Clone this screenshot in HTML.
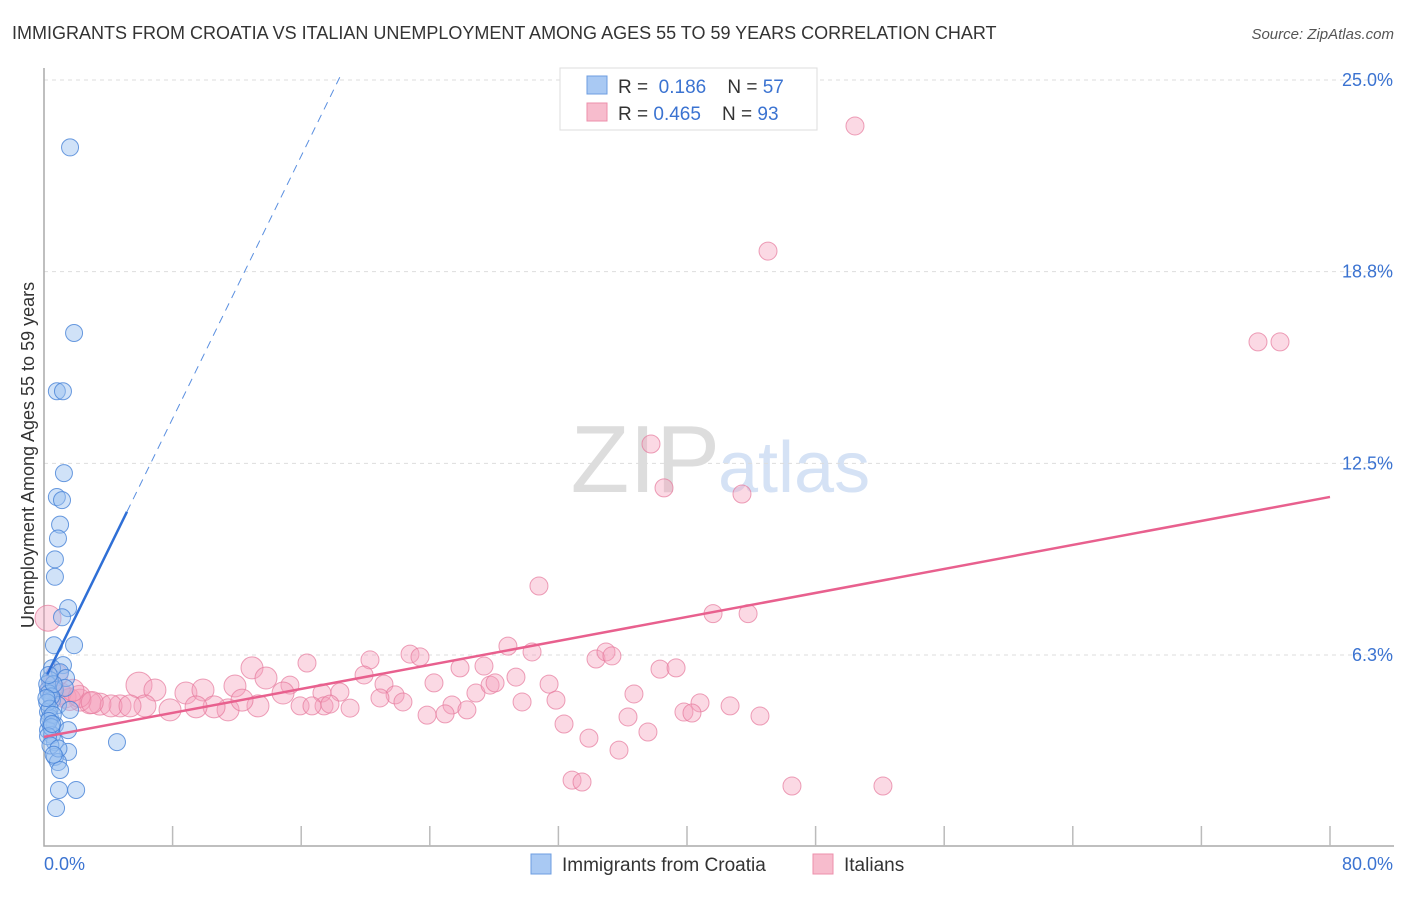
<!DOCTYPE html>
<html><head><meta charset="utf-8"><style>
body{margin:0;background:#fff;font-family:"Liberation Sans",sans-serif}
svg text{font-family:"Liberation Sans",sans-serif}
</style></head><body>
<svg width="1406" height="892" viewBox="0 0 1406 892">
<text x="12" y="39" font-size="18" fill="#333">IMMIGRANTS FROM CROATIA VS ITALIAN UNEMPLOYMENT AMONG AGES 55 TO 59 YEARS CORRELATION CHART</text>
<text x="1394" y="39" font-size="15" fill="#555" font-style="italic" text-anchor="end">Source: ZipAtlas.com</text>
<text x="720" y="492" font-size="96" fill="#ddd" text-anchor="end" font-family="Liberation Serif">ZIP</text>
<text x="718" y="492" font-size="72" fill="#d5e2f5">atlas</text>
<g id="grid"></g>
<g id="axes"></g>
<g id="pts"></g>
<g id="lines"></g>
<text transform="translate(34,455) rotate(-90)" font-size="18" fill="#333" text-anchor="middle">Unemployment Among Ages 55 to 59 years</text>
<g>
<rect x="560" y="68" width="257" height="62" fill="#fff" stroke="#ddd"/>
<rect x="587" y="76" width="20" height="18" fill="#a9c9f3" stroke="#6d9de0"/>
<rect x="587" y="103" width="20" height="18" fill="#f7bccd" stroke="#ec8fab"/>
<text x="618" y="93" font-size="19" fill="#333">R = <tspan fill="#3b73d1">&#160;0.186</tspan>&#160;&#160;&#160;&#160;N = <tspan fill="#3b73d1">57</tspan></text>
<text x="618" y="120" font-size="19" fill="#333">R = <tspan fill="#3b73d1">0.465</tspan>&#160;&#160;&#160;&#160;N = <tspan fill="#3b73d1">93</tspan></text>
</g>
<g>
<rect x="531" y="854" width="20" height="20" fill="#a9c9f3" stroke="#6d9de0"/>
<text x="562" y="871" font-size="19" fill="#333">Immigrants from Croatia</text>
<rect x="813" y="854" width="20" height="20" fill="#f7bccd" stroke="#ec8fab"/>
<text x="844" y="871" font-size="19" fill="#333">Italians</text>
</g>
</svg>
<script>
const yTicks=[6.25,12.5,18.75,25];
const yTickLabels=["6.3%","12.5%","18.8%","25.0%"];
const xTickLabels=["0.0%","80.0%"];
const blueX=[1.62,1.87,0.8,1.18,1.24,0.8,1.12,1.0,0.87,0.68,0.68,1.5,1.12,1.87,0.62,1.18,0.5,1.0,1.37,0.37,0.25,0.68,1.3,0.5,0.87,1.62,0.25,0.37,0.68,0.25,0.5,1.5,0.68,1.5,0.68,0.87,1.0,0.93,2.0,0.75,4.54,0.2,0.3,0.45,0.6,0.2,0.35,0.55,0.3,0.45,0.25,0.4,0.9,0.6,0.3,0.15,0.5];
const blueY=[22.8,16.75,14.85,14.85,12.18,11.4,11.3,10.5,10.05,9.37,8.8,7.78,7.48,6.57,6.57,5.92,5.82,5.69,5.5,5.43,5.11,5.11,5.18,4.78,4.62,4.46,4.39,4.2,3.97,3.8,3.64,3.8,3.41,3.09,2.93,2.76,2.5,1.85,1.85,1.26,3.41,5.3,5.0,4.9,5.3,4.7,4.5,4.3,4.1,3.9,3.6,3.3,3.2,3.0,5.6,4.85,4.0];
const pinkX=[50.45,45.04,75.52,76.89,37.76,38.57,43.42,30.79,41.62,43.8,0.25,28.86,30.36,22.77,23.39,20.28,16.36,12.94,25.88,27.37,38.32,39.32,34.34,34.96,35.33,5.91,6.9,8.83,9.89,11.88,13.81,15.3,14.87,17.29,18.41,19.91,21.15,21.84,20.9,22.33,24.26,25.38,26.87,27.75,28.06,29.36,31.42,31.85,29.74,36.7,40.81,42.68,39.81,40.31,36.33,44.54,32.35,33.9,35.77,37.57,23.83,24.95,26.31,19.04,17.42,15.93,13.31,11.45,10.58,7.84,6.28,4.73,3.48,2.86,2.24,1.31,4.17,5.35,9.46,12.32,32.85,33.47,46.53,52.19,16.67,17.79,0.5,1.0,1.6,2.2,3.0,0.8,1.8];
const pinkY=[23.5,19.42,16.46,16.46,13.13,11.7,11.5,8.5,7.6,7.6,7.45,6.54,6.35,6.28,6.19,6.09,5.99,5.83,5.83,5.89,5.79,5.83,6.12,6.35,6.22,5.27,5.11,5.01,5.11,5.24,5.5,5.27,5.01,5.01,5.04,5.6,5.3,4.95,4.85,4.72,5.34,4.62,5.01,5.27,5.34,5.53,5.3,4.78,4.72,4.98,4.69,4.59,4.39,4.36,4.23,4.26,4.0,3.54,3.15,3.74,4.29,4.33,4.46,4.52,4.59,4.59,4.59,4.46,4.56,4.46,4.59,4.59,4.65,4.69,4.78,4.88,4.59,4.59,4.56,4.78,2.17,2.11,1.98,1.98,4.59,4.65,5.2,5.0,4.8,4.9,4.7,5.6,5.1];
const blueFit=[5.4,1.07]; const blueSolidEnd=5.16; const blueDashEnd=18.4;
const pinkFit=[3.58,0.0978];
const X=v=>44+v*16.075, Y=v=>846.7-v*30.67;
const NS="http://www.w3.org/2000/svg";
function mk(t,a,p){const e=document.createElementNS(NS,t);for(const k in a)e.setAttribute(k,a[k]);p.appendChild(e);return e;}
const grid=document.getElementById('grid'),axes=document.getElementById('axes'),pts=document.getElementById('pts'),lines=document.getElementById('lines');
yTicks.forEach((t,i)=>{
 const g=mk('line',{x1:44,x2:1394,y1:Y(t),y2:Y(t),stroke:'#ddd','stroke-dasharray':'4,4'},grid);
 
 
 const l=mk('text',{x:1393,y:Y(t)+6,'font-size':18,fill:'#3b73d1','text-anchor':'end'},axes);l.textContent=yTickLabels[i];
 
 
});
const ax=mk('path',{d:`M44,68V846H1394`,stroke:'#aaa',fill:'none','stroke-width':1.5},axes);


for(let i=1;i<=10;i++){const v=i*8;const t=mk('line',{x1:X(v),x2:X(v),y1:826,y2:846,stroke:'#bbb','stroke-width':1.5},axes);
 
 }
const xl0=mk('text',{x:44,y:870,'font-size':18,fill:'#3b73d1'},axes);xl0.textContent=xTickLabels[0];


const xl1=mk('text',{x:1393,y:870,'font-size':18,fill:'#3b73d1','text-anchor':'end'},axes);xl1.textContent=xTickLabels[1];


pinkX.forEach((x,i)=>{const r=(i===10||i===25)?13:(x<15?11:9);
 const c=mk('circle',{cx:X(x),cy:Y(pinkY[i]),r:r,fill:'rgba(244,160,188,0.4)',stroke:'rgba(230,120,155,0.7)'},pts);
 
 });
blueX.forEach((x,i)=>{const c=mk('circle',{cx:X(x),cy:Y(blueY[i]),r:8.5,fill:'rgba(150,190,240,0.45)',stroke:'rgba(70,130,215,0.8)'},pts);
 
 });
const pl=mk('line',{x1:X(0),y1:Y(pinkFit[0]),x2:X(80),y2:Y(pinkFit[0]+pinkFit[1]*80),stroke:'#e8608e','stroke-width':2.5},lines);


const bl=mk('line',{x1:X(0.2),y1:Y(blueFit[0]+blueFit[1]*0.2),x2:X(blueSolidEnd),y2:Y(blueFit[0]+blueFit[1]*blueSolidEnd),stroke:'#2f6fd6','stroke-width':2.5},lines);


const bd=mk('line',{x1:X(blueSolidEnd),y1:Y(blueFit[0]+blueFit[1]*blueSolidEnd),x2:X(blueDashEnd),y2:Y(blueFit[0]+blueFit[1]*blueDashEnd),stroke:'#5a8fe0','stroke-width':1,'stroke-dasharray':'8,6'},lines);


</script>
</body></html>
